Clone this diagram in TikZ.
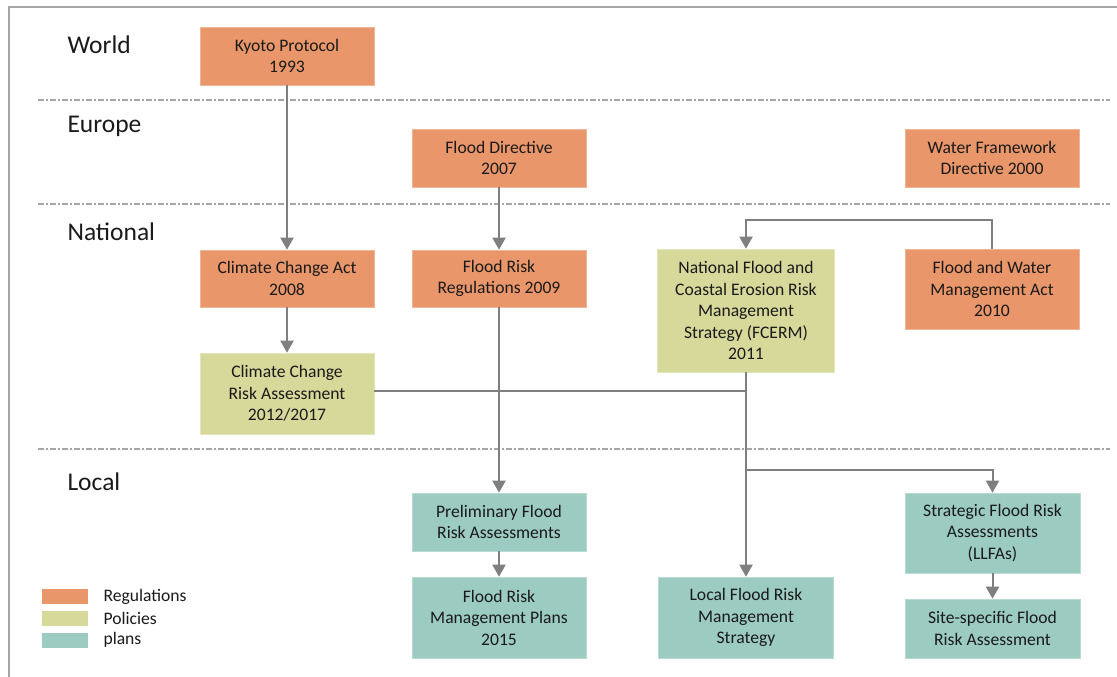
\documentclass[tikz,border=0pt]{standalone}
\usepackage{fontspec}
\setmainfont{Carlito}
\usetikzlibrary{arrows.meta}
\definecolor{regcol}{HTML}{E9966A}
\definecolor{polcol}{HTML}{D7D99B}
\definecolor{plancol}{HTML}{9BCBC1}
\definecolor{linkcol}{HTML}{7F7F7F}
\definecolor{framecol}{HTML}{A6A6A6}
\definecolor{txtcol}{HTML}{1A1A1A}
\tikzset{
  box/.style={minimum width=#1, inner sep=0pt, align=center, text=txtcol,
    font=\fontsize{17.6}{21.5}\selectfont},
  regbox/.style={box=174pt, fill=regcol, draw=regcol!70!white, line width=0.6pt},
  polbox/.style={box=175pt, fill=polcol, draw=polcol!70!white, line width=0.6pt},
  planbox/.style={box=175pt, fill=plancol, draw=plancol!70!white, line width=0.6pt},
  level/.style={anchor=west, text=txtcol, font=\fontsize{25.5}{30}\selectfont},
  link/.style={draw=linkcol, line width=2pt},
  arr/.style={link, -{Triangle[width=13pt,length=12pt]}},
  divider/.style={draw=framecol, line width=1.3pt,
    dash pattern=on 6pt off 2pt on 2pt off 2pt},
  swatch/.style={minimum width=46pt, minimum height=15pt, inner sep=0pt},
  legtext/.style={anchor=west, text=txtcol, font=\fontsize{17.6}{21.5}\selectfont}
}
\begin{document}
\begin{tikzpicture}[x=1pt, y=-1pt]
\useasboundingbox (0,0) rectangle (1117,677);

% frame on the left and top
\draw[draw=framecol, line width=2pt] (9,677) -- (9,7) -- (1117,7);

% level dividers
\draw[divider] (38,100) -- (1110,100);
\draw[divider] (38,204) -- (1110,204);
\draw[divider] (38,449) -- (1110,449);

% level labels
\node[level] (lw) at (64,45) {World};
\node[level] (le) at (64,126) {Europe};
\node[level] (ln) at (64,232) {National};
\node[level] (ll) at (64,482) {Local};

% regulations
\node[regbox, minimum height=58pt] (kyoto) at (287,56) {Kyoto Protocol\\1993};
\node[regbox, minimum height=58pt] (fd) at (499,158) {Flood Directive\\2007};
\node[regbox, minimum height=58pt] (wfd) at (992,158) {Water Framework\\Directive 2000};
\node[regbox, minimum height=57pt] (cca) at (287,278.5) {Climate Change Act\\2008};
\node[regbox, minimum height=57pt] (frr) at (499,278.5) {Flood Risk\\Regulations 2009};
\node[regbox, minimum height=80pt] (fwma) at (992,289) {Flood and Water\\Management Act\\2010};

% policies
\node[polbox, minimum width=177pt, minimum height=123pt] (fcerm) at (746,310.5)
  {National Flood and\\Coastal Erosion Risk\\Management\\Strategy (FCERM)\\2011};
\node[polbox, minimum width=174pt, minimum height=81pt] (ccra) at (287,393.5)
  {Climate Change\\Risk Assessment\\2012/2017};

% plans
\node[planbox, minimum width=174pt, minimum height=58pt] (pfra) at (499,522)
  {Preliminary Flood\\Risk Assessments};
\node[planbox, minimum width=174pt, minimum height=81pt] (frmp) at (499,617.5)
  {Flood Risk\\Management Plans\\2015};
\node[planbox, minimum height=81pt] (lfrms) at (746,617.5)
  {Local Flood Risk\\Management\\Strategy};
\node[planbox, minimum height=80pt] (sfra) at (992.5,533)
  {Strategic Flood Risk\\Assessments\\(LLFAs)};
\node[planbox, minimum height=59pt] (site) at (992.5,628.5)
  {Site-specific Flood\\Risk Assessment};

% connectors
\draw[arr] (kyoto.south) -- (cca.north);
\draw[arr] (fd.south) -- (frr.north);
\draw[arr] (cca.south) -- (ccra.north);
\draw[arr] (frr.south) -- (pfra.north);
\draw[arr] (pfra.south) -- (frmp.north);
\draw[arr] (fwma.north) -- ++(0,-28.5) -| (fcerm.north);
\draw[arr] (fcerm.south) -- (lfrms.north);
\coordinate (ccj) at (fcerm.south |- 0,391);
\draw[link] (ccra.east |- ccj) -- (ccj);
\coordinate (brj) at (fcerm.south |- 0,470);
\draw[arr] (brj) -| (sfra.north);
\draw[arr] (sfra.south) -- (site.north);

% legend
\node[swatch, fill=regcol] (kreg) at (65,596.5) {};
\node[swatch, fill=polcol] (kpol) at (65,618) {};
\node[swatch, fill=plancol] (kplan) at (65,640) {};
\node[legtext] (treg) at (100,596.5) {Regulations};
\node[legtext] (tpol) at (100,618) {Policies};
\node[legtext] (tplan) at (100,640) {plans};
\end{tikzpicture}
\end{document}
